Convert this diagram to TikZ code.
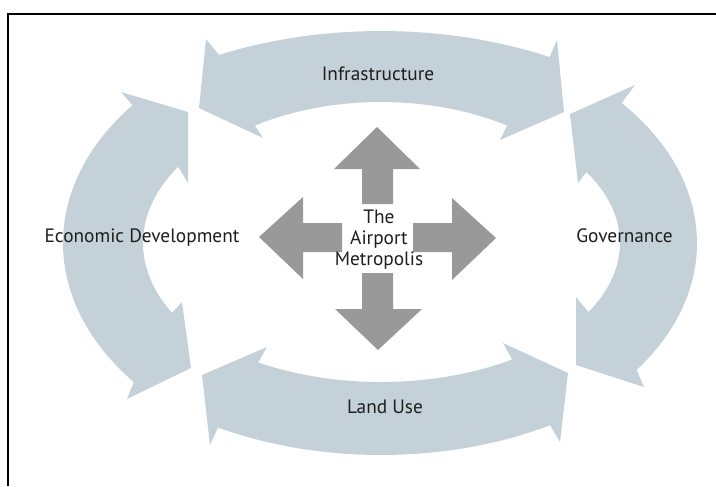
\documentclass[tikz,border=0pt]{standalone}
\usepackage{fontspec}
\setmainfont{PT Sans}
\begin{document}
\begin{tikzpicture}[x=0.75pt,y=0.75pt,yscale=-1,xscale=1,
  band/.style={fill={rgb, 255:red, 197; green, 209; blue, 217 }, draw=none},
  hub/.style={fill={rgb, 255:red, 153; green, 153; blue, 153 }, draw=none},
  lbl/.style={inner sep=0.75pt, text={rgb, 255:red, 30; green, 30; blue, 30 }, font=\fontsize{14.5}{15.8}\selectfont}]
\useasboundingbox (0,0) rectangle (716,486);

%Frame
\draw [line width=1.5pt]  (7.5,486) -- (7.5,13.5) -- (716,13.5) ;

%Shape: Curved Arrow [top]
\draw [band] ([shift={(381,243)}]242.5:351 and 212) arc [start angle=242.5, end angle=298.7, x radius=351, y radius=212] -- (557,40) -- (564,112) -- (500,140) -- ([shift={(381,243)}]303.6:228 and 141) arc [start angle=303.6, end angle=236.4, x radius=228, y radius=141] -- (263,138) -- (199,108) -- (206,39) -- cycle ;
%Shape: Curved Arrow [left]
\draw [band] ([shift={(381,243)}]218.6:318 and 221) arc [start angle=218.6, end angle=141, x radius=318, y radius=221] -- (127,399) -- (191,368) -- (182,302) -- ([shift={(381,243)}]151.4:238 and 146) arc [start angle=151.4, end angle=211.5, x radius=238, y radius=146] -- (188,183) -- (188,112) -- (121,92) -- cycle ;
%Shape: Curved Arrow [right]
\draw [band] ([shift={(381,243)}]-40.4:316 and 216) arc [start angle=-40.4, end angle=36, x radius=316, y radius=216] -- (644,387) -- (576,365) -- (576,297) -- ([shift={(381,243)}]29.8:239 and 139) arc [start angle=29.8, end angle=-30.7, x radius=239, y radius=139] -- (578,183) -- (570,114) -- (635,85) -- cycle ;
%Shape: Curved Arrow [bottom]
\draw [band] ([shift={(381,243)}]119.5:331 and 212) arc [start angle=119.5, end angle=59.3, x radius=331, y radius=212] -- (560,442) -- (568,373) -- (503,343) -- ([shift={(381,243)}]56.9:240 and 139) arc [start angle=56.9, end angle=120.8, x radius=240, y radius=139] -- (267,347) -- (202,375) -- (210,445) -- cycle ;

%Shape: Up Arrow
\draw [hub] (362,204) -- (362,169) -- (334,169) -- (377,127) -- (420,169) -- (393,169) -- (393,204) -- cycle ;
%Shape: Down Arrow
\draw [hub] (362,273) -- (362,309) -- (335,309) -- (378,350) -- (422,309) -- (393,309) -- (393,273) -- cycle ;
%Shape: Left Arrow
\draw [hub] (342,223) -- (303,223) -- (303,197) -- (259,237) -- (303,279) -- (303,252) -- (342,252) -- cycle ;
%Shape: Right Arrow
\draw [hub] (413,223) -- (452,223) -- (452,198) -- (496,238) -- (452,280) -- (452,252) -- (413,252) -- cycle ;

% Text Node
\node (infra) [lbl, anchor=base] at (378,80) {Infrastructure};
% Text Node
\node (econ) [lbl, anchor=base] at (142,242) {Economic Development};
% Text Node
\node (gov) [lbl, anchor=base] at (624.5,242.5) {Governance};
% Text Node
\node (land) [lbl, anchor=base] at (385,413) {Land Use};
% Text Node
\node (hub) [lbl, align=center] at (379,240) {The\\Airport\\Metropolis};

\end{tikzpicture}
\end{document}
